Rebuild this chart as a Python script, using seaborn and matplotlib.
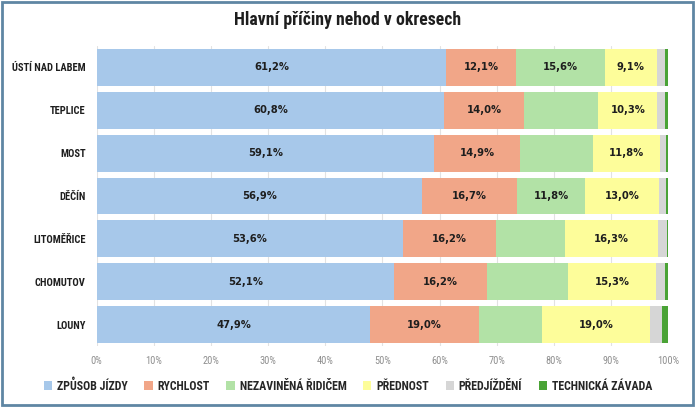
import numpy as np
import pandas as pd
import matplotlib
matplotlib.use("Agg")
import matplotlib.pyplot as plt
from matplotlib.patches import Rectangle, Patch
from matplotlib import font_manager
import seaborn as sns

okresy = ["ÚSTÍ NAD LABEM", "TEPLICE", "MOST", "DĚČÍN", "LITOMĚŘICE", "CHOMUTOV", "LOUNY"]
kategorie = ["ZPŮSOB JÍZDY", "RYCHLOST", "NEZAVINĚNÁ ŘIDIČEM", "PŘEDNOST", "PŘEDJÍŽDĚNÍ", "TECHNICKÁ ZÁVADA"]

zpusob_jizdy = [61.2, 60.8, 59.1, 56.9, 53.6, 52.1, 47.9]
rychlost = [12.1, 14.0, 14.9, 16.7, 16.2, 16.2, 19.0]
nezavinena = [15.6, 13.0, 12.8, 11.8, 12.1, 14.2, 11.0]
prednost = [9.1, 10.3, 11.8, 13.0, 16.3, 15.3, 19.0]
predjizdeni = [1.4, 1.4, 1.1, 1.3, 1.6, 1.6, 2.1]
technicka = [0.6, 0.5, 0.3, 0.3, 0.2, 0.6, 1.0]

# u zelene rady jsou popisky jen u nekterych okresu
popisek_nezavinena = [True, False, False, True, False, False, False]

barvy = ["#a7c8ea", "#f1a688", "#b2e2a6", "#fdfd9a", "#d6d6d6", "#4aa336"]

df = pd.DataFrame({
    kategorie[0]: zpusob_jizdy,
    kategorie[1]: rychlost,
    kategorie[2]: nezavinena,
    kategorie[3]: prednost,
    kategorie[4]: predjizdeni,
    kategorie[5]: technicka,
}, index=okresy)
cum = df.cumsum(axis=1)

sns.set_style("white")
nainstalovane = {f.name for f in font_manager.fontManager.ttflist}
uzky = [f for f in ["Roboto Condensed", "Liberation Sans Narrow", "Roboto"] if f in nainstalovane]
uzky += ["DejaVu Sans"]
plt.rcParams["font.family"] = uzky

fig = plt.figure(figsize=(6.96, 4.07), dpi=100)
ax = fig.add_axes([0.139, 0.150, 0.821, 0.737])

# vrstvene kumulativni sloupce, od nejdelsiho
for col, barva in reversed(list(zip(kategorie, barvy))):
    sns.barplot(x=cum[col].values, y=okresy, orient="h", color=barva,
                width=0.86, saturation=1, ax=ax, zorder=2, linewidth=0)

for j, col in enumerate(kategorie[:4]):
    for i, ok in enumerate(okresy):
        if col == kategorie[2] and not popisek_nezavinena[i]:
            continue
        v = df.loc[ok, col]
        xc = cum.loc[ok, col] - v / 2
        ax.text(xc, i, f"{v:.1f}%".replace(".", ","), ha="center", va="center",
                fontsize=7.2, fontweight="bold", color="#1e1e1e",
                family=["DejaVu Sans"], zorder=3)

ax.set_xlim(0, 100)
ax.set_ylim(6.5, -0.5)
ax.set_xticks(np.arange(0, 101, 10))
ax.set_xticklabels([f"{t}%" for t in range(0, 101, 10)], color="#8f8f8f", fontsize=7.5)
ax.grid(axis="x", color="#e2e2e2", lw=0.8, zorder=0)
ax.set_axisbelow(True)
ax.tick_params(axis="x", length=0, pad=7)
ax.tick_params(axis="y", length=0, pad=8)
for lab in ax.get_yticklabels():
    lab.set_fontweight("bold")
    lab.set_fontsize(7.6)
    lab.set_color("#1e1e1e")
ax.set_xlabel("")
ax.set_ylabel("")
sns.despine(ax=ax, left=True, bottom=True)

fig.text(0.5, 0.950, "Hlavní příčiny nehod v okresech", ha="center", va="center",
         fontsize=12.8, fontweight="bold", color="#1e1e1e")

handles = [Patch(facecolor=b, edgecolor="none") for b in barvy]
fig.legend(handles, kategorie, loc="center", bbox_to_anchor=(0.5, 0.052), ncol=6,
           frameon=False, handlelength=0.7, handleheight=0.7, columnspacing=1.4,
           handletextpad=0.4, prop={"weight": "bold", "size": 8.6})

fig.patches.append(Rectangle((0.003, 0.004), 0.993, 0.99, transform=fig.transFigure,
                             fill=False, edgecolor="#5f86a3", lw=2))

fig.savefig("out.png", dpi=100)
